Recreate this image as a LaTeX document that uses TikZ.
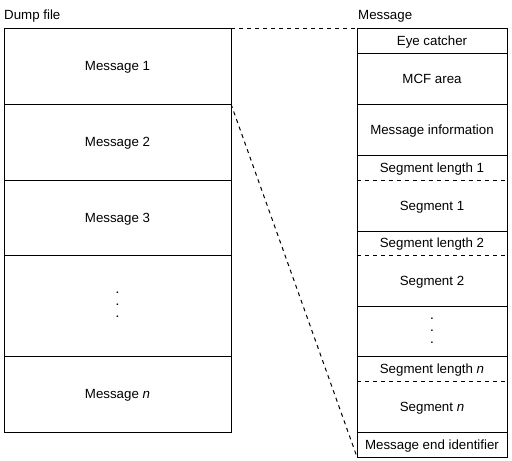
\documentclass[tikz,border=0pt]{standalone}
\usepackage{fontspec}
\setmainfont{Liberation Sans}
\usetikzlibrary{positioning}

\begin{document}
\begin{tikzpicture} [x=1pt, y=-1pt,
font=\fontsize{13.3}{16.5}\selectfont,
dumpcell/.style = { rectangle, draw=black, line width=1pt,
    minimum width=227pt, text centered, inner sep=0pt, outer sep=0pt,
    text height=9.5pt, text depth=0pt },
msgcell/.style  = { rectangle, draw=black, line width=1pt,
    minimum width=150pt, text centered, inner sep=0pt, outer sep=0pt,
    text height=9.5pt, text depth=0pt },
msgpart/.style  = { rectangle, minimum width=150pt, text centered,
    inner sep=0pt, outer sep=0pt, text height=9.5pt, text depth=0pt },
title/.style    = { anchor=base west, inner sep=0pt },
dots/.style     = { align=center, inner sep=0pt, yshift=0.5pt, font=\bfseries },
link/.style     = { draw, line width=1pt, dash pattern=on 4pt off 4pt },
]
\useasboundingbox (0,0) rectangle (512,461);

% Dump file column
\node [title] (dumptitle) at (4,19) {Dump file};
\node [dumpcell, minimum height=76pt, anchor=north west] (m1) at (4,28) {Message 1};
\node [dumpcell, minimum height=76pt, below=0pt of m1] (m2) {Message 2};
\node [dumpcell, minimum height=75pt, below=0pt of m2] (m3) {Message 3};
\node [dumpcell, minimum height=101pt, below=0pt of m3] (mdots) {};
\node [dumpcell, minimum height=76pt, below=0pt of mdots] (mn) {Message \textit{n}};
\node [dots] (ldots) at (mdots.center) {.\\.\\.};

% Message column
\node [title] (msgtitle) at (358,19) {Message};
\node [msgcell, minimum height=25pt, anchor=north west] (eye) at (357,28) {Eye catcher};
\node [msgcell, minimum height=51pt, below=0pt of eye] (mcf) {MCF area};
\node [msgcell, minimum height=51pt, below=0pt of mcf] (info) {Message information};
\node [msgpart, minimum height=25pt, below=0pt of info] (len1) {Segment length 1};
\node [msgpart, minimum height=51pt, below=0pt of len1] (seg1) {Segment 1};
\node [msgpart, minimum height=24pt, below=0pt of seg1] (len2) {Segment length 2};
\node [msgpart, minimum height=51pt, below=0pt of len2] (seg2) {Segment 2};
\node [msgcell, minimum height=50pt, below=0pt of seg2] (sdots) {};
\node [msgpart, minimum height=25pt, below=0pt of sdots] (lenn) {Segment length \textit{n}};
\node [msgpart, minimum height=51pt, below=0pt of lenn] (segn) {Segment \textit{n}};
\node [msgcell, minimum height=25pt, below=0pt of segn] (mend) {Message end identifier};
\node [dots] (rdots) at (sdots.center) {.\\.\\.};

% frames of the segment pairs
\draw [line width=1pt] (len1.north west) rectangle (seg1.south east);
\draw [line width=1pt] (len2.north west) rectangle (seg2.south east);
\draw [line width=1pt] (lenn.north west) rectangle (segn.south east);
\path [link] (len1.south west) -- (len1.south east);
\path [link] (len2.south west) -- (len2.south east);
\path [link] (lenn.south west) -- (lenn.south east);

% zoom lines
\path [link] (m1.north east) -- (eye.north west);
\path [link] (m1.south east) -- (mend.south west);

\end{tikzpicture}
\end{document}
